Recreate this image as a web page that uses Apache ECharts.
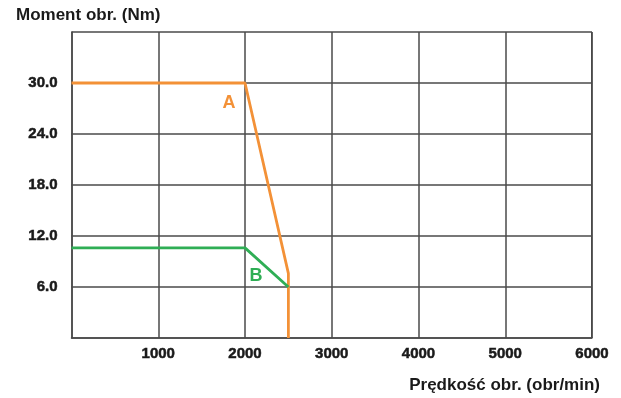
<!DOCTYPE html>
<html>
<head>
<meta charset="utf-8">
<script src="https://cdn.jsdelivr.net/npm/echarts@6/dist/echarts.min.js"></script>
<style>
  html, body { margin: 0; padding: 0; background: #fff; }
  #chart { width: 621px; height: 398px; }
</style>
</head>
<body>
<div id="chart"></div>
<script>
// Torque vs. speed characteristic: curves A and B
const speedA = [0, 2000, 2500, 2500];
const torqueA = [30, 30, 7.6, 0];
const speedB = [0, 2000, 2500];
const torqueB = [10.6, 10.6, 6.0];
const curveNames = ['A', 'B'];
const curveLabelAt = [[1816, 27.6], [2127, 7.3]];

const orange = '#f39137';
const green = '#2fae55';
const gridColor = '#4a4a4a';
const tickFont = {
  color: '#1a1a1a', fontWeight: 'bold', fontSize: 15, fontFamily: 'Liberation Sans',
  textBorderColor: '#1a1a1a', textBorderWidth: 0.5
};

const chart = echarts.init(document.getElementById('chart'));

function pairs(xs, ys) { return xs.map((x, i) => [x, ys[i]]); }

chart.setOption({
  animation: false,
  backgroundColor: '#fff',
  grid: { left: 71.5, right: 29, top: 32, bottom: 60, containLabel: false },
  xAxis: {
    type: 'value', min: 0, max: 6000, interval: 1000,
    axisLine: { show: true, lineStyle: { color: gridColor, width: 1.5 } },
    axisTick: { show: false },
    splitLine: { show: true, lineStyle: { color: gridColor, width: 1.5 } },
    axisLabel: Object.assign({}, tickFont, {
      margin: 8,
      formatter: v => (v === 0 ? '' : String(v))
    })
  },
  yAxis: {
    type: 'value', min: 0, max: 36, interval: 6,
    axisLine: { show: true, lineStyle: { color: gridColor, width: 1.5 } },
    axisTick: { show: false },
    splitLine: { show: true, lineStyle: { color: gridColor, width: 1.5 } },
    axisLabel: Object.assign({}, tickFont, {
      margin: 14,
      formatter: v => (v === 0 || v === 36 ? '' : v.toFixed(1))
    })
  },
  graphic: [
    { type: 'text', left: 16, top: 7,
      style: { text: 'Moment obr. (Nm)', font: 'bold 17px "Liberation Sans"', fill: '#1a1a1a' } },
    { type: 'rect', shape: { x: 591, y: 32, width: 1.5, height: 306 },
      style: { fill: gridColor } },
    { type: 'text', right: 21, top: 377,
      style: { text: 'Prędkość obr. (obr/min)', font: 'bold 17px "Liberation Sans"', fill: '#1a1a1a' } }
  ],
  series: [
    {
      name: curveNames[0], type: 'line', data: pairs(speedA, torqueA),
      symbol: 'none', lineStyle: { color: orange, width: 2.8 },
      markPoint: {
        symbol: 'circle', symbolSize: 0,
        label: { show: true, formatter: curveNames[0], color: orange, fontSize: 18, fontWeight: 'bold', fontFamily: 'Liberation Sans' },
        data: [{ coord: curveLabelAt[0] }]
      }
    },
    {
      name: curveNames[1], type: 'line', data: pairs(speedB, torqueB),
      symbol: 'none', lineStyle: { color: green, width: 2.8 },
      markPoint: {
        symbol: 'circle', symbolSize: 0,
        label: { show: true, formatter: curveNames[1], color: green, fontSize: 18, fontWeight: 'bold', fontFamily: 'Liberation Sans' },
        data: [{ coord: curveLabelAt[1] }]
      }
    }
  ]
});
</script>
</body>
</html>
